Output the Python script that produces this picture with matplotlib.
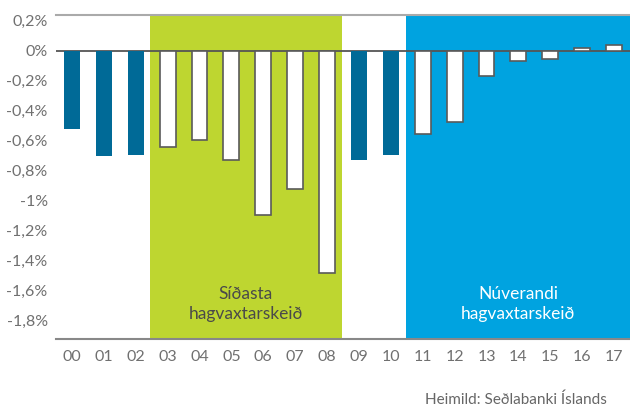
import matplotlib
matplotlib.use("Agg")
import matplotlib.pyplot as plt
from matplotlib.ticker import FixedLocator, FuncFormatter

years = ["00", "01", "02", "03", "04", "05", "06", "07", "08",
         "09", "10", "11", "12", "13", "14", "15", "16", "17"]
values = [-0.52, -0.705, -0.693, -0.642, -0.593, -0.729, -1.093, -0.922, -1.482,
          -0.727, -0.693, -0.555, -0.473, -0.167, -0.069, -0.058, 0.015, 0.038]
in_cycle = [False, False, False, True, True, True, True, True, True,
            False, False, True, True, True, True, True, True, True]
yticks = [0.2, 0.0, -0.2, -0.4, -0.6, -0.8, -1.0, -1.2, -1.4, -1.6, -1.8]
cycle_labels = ["Síðasta\nhagvaxtarskeið", "Núverandi\nhagvaxtarskeið"]
source = "Heimild: Seðlabanki Íslands"

FONT = ["Lato", "DejaVu Sans"]
plt.rcParams["font.family"] = FONT

fig = plt.figure(figsize=(6.3, 4.08), dpi=100)
ax = fig.add_axes([56/630, 1-338.7/408, 1-56/630, (338.7-15)/408])

x = list(range(len(years)))
ax.set_xlim(-0.5, len(years) - 0.5)
ax.set_ylim(-1.92, 0.238)

green = "#BED630"
blue = "#00A3E0"
dark = "#006A97"

ax.axvspan(2.45, 8.46, color=green, zorder=0, lw=0)
ax.axvspan(10.47, 17.5, color=blue, zorder=0, lw=0)

ax.axhline(0, color="#555555", lw=1.3, zorder=2)

for xi, v, c in zip(x, values, in_cycle):
    if c:
        ax.bar(xi, v, width=0.5, color="white", edgecolor="#5a5a5a", lw=1.2, zorder=3)
    else:
        ax.bar(xi, v, width=0.5, color=dark, lw=0, zorder=3)

ax.text(5.45, -1.69, cycle_labels[0], ha="center", va="center", fontsize=12.5,
        color="#4a4a4a", linespacing=1.3, zorder=4)
ax.text(14.0, -1.69, cycle_labels[1], ha="center", va="center", fontsize=12.5,
        color="white", linespacing=1.3, zorder=4)

for s in ["left", "right"]:
    ax.spines[s].set_visible(False)
ax.spines["top"].set_color("#aaaaaa")
ax.spines["top"].set_linewidth(1.5)
ax.spines["bottom"].set_color("#888888")
ax.spines["bottom"].set_linewidth(1.5)

ax.set_xticks(x)
ax.set_xticklabels(years)
ax.yaxis.set_major_locator(FixedLocator(yticks))

def fmt(v, pos):
    s = f"{v:.1f}".rstrip("0").rstrip(".")
    if s in ("-0", "0"):
        s = "0"
    return s.replace(".", ",") + "%"

ax.yaxis.set_major_formatter(FuncFormatter(fmt))
ax.tick_params(axis="both", length=0, labelsize=11.5, labelcolor="#707070")
ax.tick_params(axis="x", pad=8)
ax.tick_params(axis="y", pad=6)

fig.text(607/630, 1-400/408, source, ha="right", va="center", fontsize=11,
         color="#666666")

fig.savefig("out.png", dpi=100)
